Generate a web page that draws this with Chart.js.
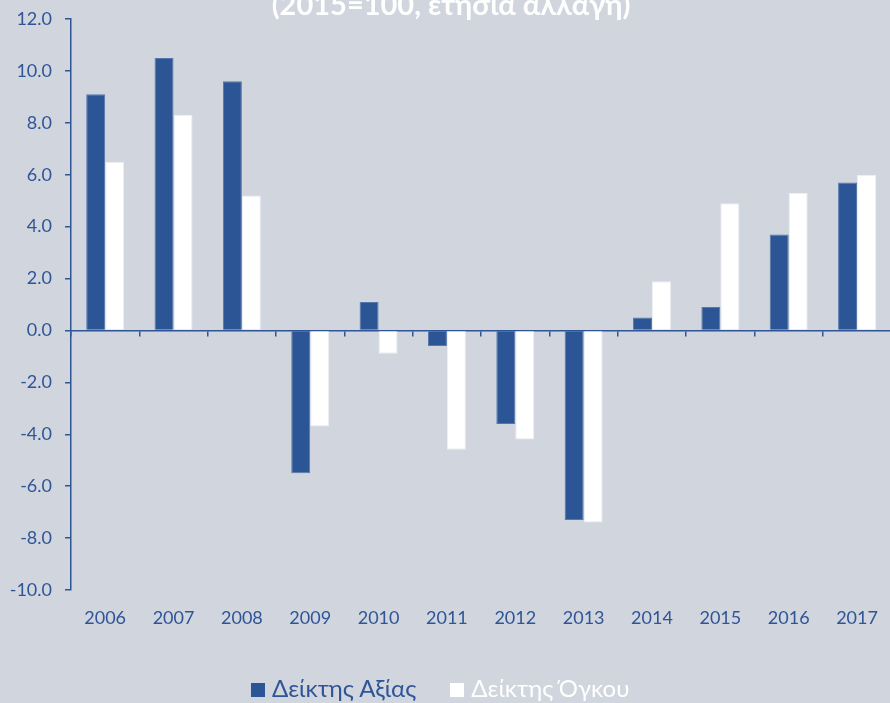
<!DOCTYPE html>
<html>
<head>
<meta charset="utf-8">
<script src="https://cdn.jsdelivr.net/npm/chart.js@4.4.0/dist/chart.umd.min.js"></script>
<style>
html, body { margin: 0; padding: 0; background: #d0d5de; overflow: hidden; }
#wrap { position: relative; width: 895px; height: 703px; }
#legend { position: absolute; left: 251px; top: 676px; font: 24px/24px Lato; white-space: nowrap; }
#legend .item { display: inline-block; }
#legend .box { display: inline-block; width: 14px; height: 14px; margin-right: 7px; }
</style>
</head>
<body>
<div id="wrap"><canvas id="myChart"></canvas><div id="legend"></div></div>
<script>
// data
var years = ['2006', '2007', '2008', '2009', '2010', '2011', '2012', '2013', '2014', '2015', '2016', '2017'];
var valueIndex = [9.1, 10.5, 9.6, -5.5, 1.1, -0.6, -3.6, -7.3, 0.5, 0.9, 3.7, 5.7];
var volumeIndex = [6.5, 8.3, 5.2, -3.7, -0.9, -4.6, -4.2, -7.4, 1.9, 4.9, 5.3, 6.0];
var seriesNames = ['Δείκτης Αξίας', 'Δείκτης Όγκου'];
var yMin = -10, yMax = 12, yStep = 2;
var titleText = '(2015=100, ετήσια αλλαγή)';

var blue = '#2b5594';
var textBlue = '#2f5597';
var seriesColors = [blue, '#ffffff'];
var legendTextColors = [textBlue, '#ffffff'];

// title is cut off at the top of the picture, so draw it by hand
var titlePlugin = {
    id: 'cutTitle',
    afterDraw: function (chart) {
        var c = chart.ctx;
        c.save();
        c.font = 'bold 29px Lato';
        c.fillStyle = '#ffffff';
        c.textAlign = 'center';
        c.textBaseline = 'alphabetic';
        c.fillText(titleText, 451, 15);
        c.restore();
    }
};

var ctx = document.getElementById('myChart');
var myChart = new Chart(ctx, {
    type: 'bar',
    data: {
        labels: years,
        datasets: [{
            label: seriesNames[0],
            data: valueIndex,
            backgroundColor: seriesColors[0],
            borderColor: '#5677ad',
            borderWidth: 1
        }, {
            label: seriesNames[1],
            data: volumeIndex,
            backgroundColor: seriesColors[1],
            borderColor: '#eceff3',
            borderWidth: 1
        }]
    },
    options: {
        responsive: true,
        maintainAspectRatio: false,
        animation: false,
        categoryPercentage: 0.555,
        barPercentage: 1.0,
        layout: { padding: { left: 0, right: 2, top: 19, bottom: 58 } },
        plugins: {
            tooltip: { enabled: false },
            legend: { display: false }
        },
        scales: {
            x: {
                position: { y: 0 },
                grid: { display: true, drawOnChartArea: false, drawTicks: true, tickLength: 5, color: textBlue, lineWidth: 1.5, offset: true },
                border: { display: true, color: textBlue, width: 1.5 },
                ticks: { display: false }
            },
            x2: {
                type: 'category',
                position: 'bottom',
                grid: { display: false, drawTicks: false },
                border: { display: false },
                ticks: { color: textBlue, font: { family: 'Lato', size: 18 }, padding: 17, maxRotation: 0 },
                afterFit: function (scale) { scale.height = 55; }
            },
            y: {
                min: yMin,
                max: yMax,
                ticks: {
                    stepSize: yStep,
                    color: textBlue,
                    font: { family: 'Lato', size: 18 },
                    padding: 13,
                    callback: function (v) { return v.toFixed(1); }
                },
                grid: { drawOnChartArea: false, drawTicks: true, tickLength: 6, color: textBlue, lineWidth: 1.5 },
                border: { display: true, color: textBlue, width: 1.5 },
                afterFit: function (scale) {
                    scale.width = 71;
                    scale.paddingTop = 0;
                    scale.paddingBottom = 0;
                }
            }
        }
    },
    plugins: [titlePlugin]
});

// legend in html, built from the series
var legend = document.getElementById('legend');
for (var i = 0; i < seriesNames.length; i++) {
    var item = document.createElement('span');
    item.className = 'item';
    if (i > 0) item.style.marginLeft = '34px';
    item.style.color = legendTextColors[i];
    item.innerHTML = '<span class="box" style="background:' + seriesColors[i] + '"></span>' + seriesNames[i];
    legend.appendChild(item);
}
</script>
</body>
</html>
